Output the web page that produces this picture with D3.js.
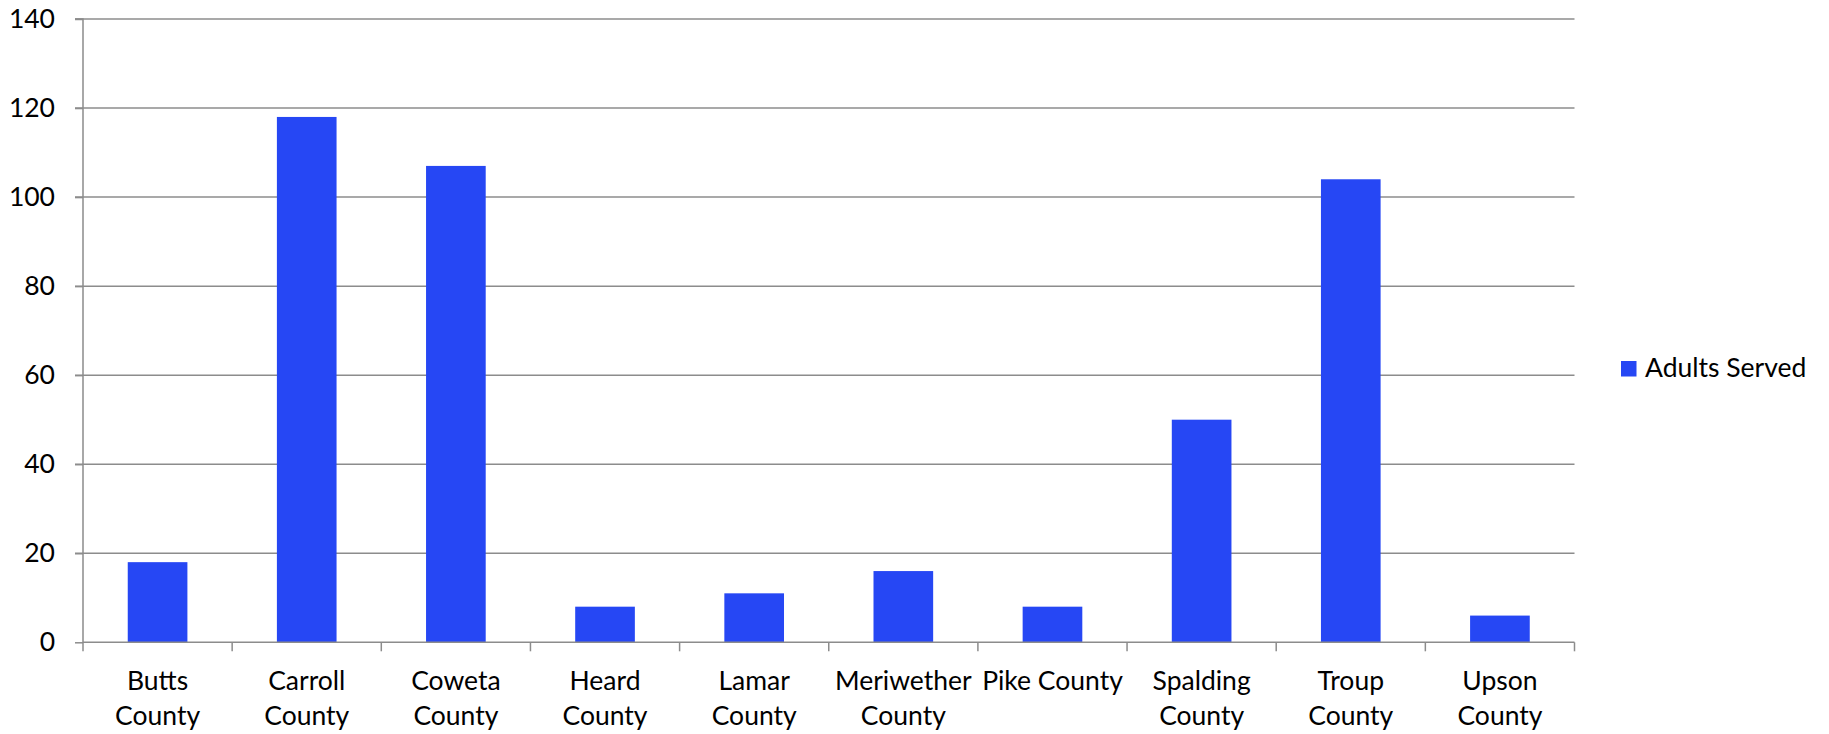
<!DOCTYPE html>
<html><head><meta charset="utf-8">
<script src="https://cdn.jsdelivr.net/npm/d3@7"></script>
<style>html,body{margin:0;padding:0;background:#fff;}svg{display:block;}</style>
</head><body>
<svg id="c" width="1829" height="734"></svg>
<script>
const categories = ["Butts County","Carroll County","Coweta County","Heard County","Lamar County","Meriwether County","Pike County","Spalding County","Troup County","Upson County"];
const tickLabels = [["Butts","County"],["Carroll","County"],["Coweta","County"],["Heard","County"],["Lamar","County"],["Meriwether","County"],["Pike County"],["Spalding","County"],["Troup","County"],["Upson","County"]];
const adultsServed = [18,118,107,8,11,16,8,50,104,6];
const yTicks = [0,20,40,60,80,100,120,140];
const seriesName = "Adults Served";

(function(){
const svg = d3.select("#c");
const font = "Lato, 'Open Sans', sans-serif";
const fs = 26.5;
const pL = 83, pR = 1574.5, pT = 19, pB = 642.3;
const x = d3.scaleBand().domain(categories).range([pL, pR]).paddingInner(0.6).paddingOuter(0.3);
const xb = d3.scaleBand().domain(categories).range([pL, pR]);
const y = d3.scaleLinear().domain([0,140]).range([pB, pT]);
const grid = "#8c8c8c";

svg.append("g").selectAll("line").data(yTicks.filter(d=>d>0)).join("line")
  .attr("x1", pL-8).attr("x2", pR).attr("y1", d=>y(d)).attr("y2", d=>y(d))
  .attr("stroke", grid).attr("stroke-width", 1.5);

svg.append("g").selectAll("rect").data(adultsServed).join("rect")
  .attr("x", (d,i)=>x(categories[i])).attr("width", x.bandwidth())
  .attr("y", d=>y(d)).attr("height", d=>y(0)-y(d))
  .attr("fill", "#2647f4");

const ya = svg.append("g").attr("transform", `translate(${pL},0)`)
  .call(d3.axisLeft(y).tickValues(yTicks).tickSize(8).tickPadding(20));
ya.select(".domain").attr("stroke", grid).attr("stroke-width", 1.5).attr("d", `M-8,${pT}H0V${pB}`);
ya.selectAll(".tick line").attr("stroke", grid).attr("stroke-width", 1.5);
ya.selectAll(".tick text").attr("font-family", font).attr("font-size", fs).attr("fill", "#000");

const xa = svg.append("g").attr("transform", `translate(0,${pB})`)
  .call(d3.axisBottom(xb).tickSize(0).tickFormat(""));
xa.select(".domain").attr("stroke", grid).attr("stroke-width", 1.5).attr("d", `M${pL},0H${pR}`);
const xt = svg.append("g").attr("transform", `translate(0,${pB})`);
const bounds = [pL].concat(categories.map(c=>xb(c)+xb.bandwidth()));
xt.selectAll("line").data(bounds).join("line")
  .attr("x1", d=>d).attr("x2", d=>d).attr("y1", 0).attr("y2", 9)
  .attr("stroke", grid).attr("stroke-width", 1.5);
const lbl = svg.append("g").attr("font-family", font).attr("font-size", fs).attr("text-anchor","middle");
tickLabels.forEach((lines,i)=>{
  const cx = xb(categories[i]) + xb.bandwidth()/2;
  const t = lbl.append("text").attr("x", cx).attr("y", 690);
  lines.forEach((s,j)=> t.append("tspan").attr("x", cx).attr("y", 690 + j*35).text(s));
});

const lg = svg.append("g");
lg.append("rect").attr("x", 1621).attr("y", 361).attr("width", 15.5).attr("height", 15.5).attr("fill", "#2647f4");
lg.append("text").attr("x", 1645).attr("y", 377).attr("font-family", font).attr("font-size", fs).text(seriesName);
})();
</script>
</body></html>
